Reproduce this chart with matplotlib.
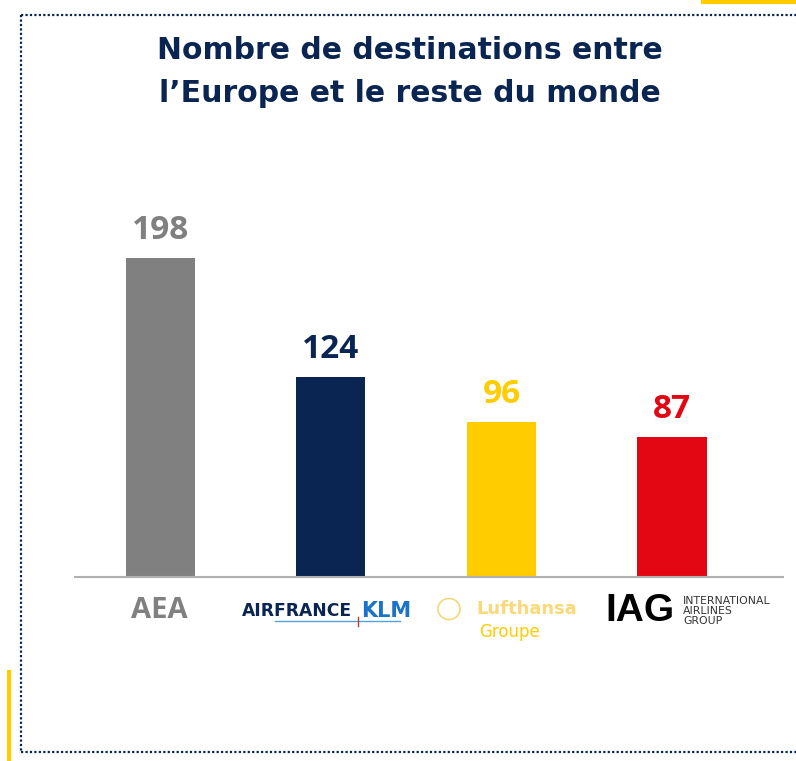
import matplotlib.pyplot as plt
from matplotlib.lines import Line2D

# data
groups = ["AEA", "Air France KLM", "Lufthansa Groupe", "IAG"]
destinations = [198, 124, 96, 87]
bar_colors = ["#808080", "#0a2551", "#ffcc00", "#e30613"]
title = "Nombre de destinations entre\nl\u2019Europe et le reste du monde"

W, H = 796, 761
fig = plt.figure(figsize=(W / 100, H / 100), dpi=100)


def fx(px):
    return px / W


def fy(py):
    return 1 - py / H


# dotted frame + yellow accents
navy = "#0a2551"
for xs, ys in [([21, 796], [15, 15]), ([21, 21], [15, 752]), ([21, 796], [752, 752])]:
    fig.add_artist(Line2D([fx(x) for x in xs], [fy(y) for y in ys], color=navy,
                          lw=1.6, ls=(0, (1, 1)), transform=fig.transFigure))
fig.add_artist(Line2D([fx(703), fx(796)], [fy(1.5), fy(1.5)], color="#ffcc00",
                      lw=3, transform=fig.transFigure))
fig.add_artist(Line2D([fx(8.5), fx(8.5)], [fy(672), fy(761)], color="#ffcc00",
                      lw=3, transform=fig.transFigure))

fig.text(fx(410), fy(72), title, ha="center", va="center", fontsize=21.5,
         fontweight="bold", color=navy, linespacing=1.6)

# axes: baseline at y=577, x from 75 to 783
ax = fig.add_axes([fx(75), fy(577), fx(708), (577 - 174) / H])
x = range(len(groups))
ax.bar(x, destinations, width=0.405, color=bar_colors)
ax.set_xlim(-0.501, 3.651)
ax.set_ylim(0, 250)
for s in ["top", "right", "left"]:
    ax.spines[s].set_visible(False)
ax.spines["bottom"].set_color("#b0b0b0")
ax.spines["bottom"].set_linewidth(1.5)
ax.set_xticks([])
ax.set_yticks([])

for i, v in enumerate(destinations):
    ax.annotate(str(v), (i, v), xytext=(0, 8), textcoords="offset points",
                ha="center", va="bottom", fontsize=24, fontweight="bold",
                color=bar_colors[i], family="Open Sans")

# group labels (logo text)
fig.text(fx(159), fy(610), "AEA", ha="center", va="center", fontsize=21,
         fontweight="bold", color="#808080", family="Open Sans")

fig.text(fx(352), fy(611), "AIRFRANCE", ha="right", va="center", fontsize=12.3,
         fontweight="bold", color=navy)
fig.text(fx(361), fy(611), "KLM", ha="left", va="center", fontsize=15,
         fontweight="bold", color="#1a73c8")
fig.add_artist(Line2D([fx(275), fx(400)], [fy(621), fy(621)], color="#4fa3e0",
                      lw=1, transform=fig.transFigure))
fig.add_artist(Line2D([fx(358), fx(358)], [fy(617), fy(626)], color="#c0392b",
                      lw=1, transform=fig.transFigure))

fig.add_artist(plt.Circle((fx(449), fy(609)), 11 / W, fill=False,
                          ec="#f5d77a", lw=1.2, transform=fig.transFigure))
fig.text(fx(527), fy(609), "Lufthansa", ha="center", va="center", fontsize=13,
         fontweight="bold", color="#f9d978")
fig.text(fx(509), fy(632), "Groupe", ha="center", va="center", fontsize=12,
         color="#ffcc00")

fig.text(fx(605), fy(611), "IAG", ha="left", va="center", fontsize=28,
         fontweight="heavy", color="black", family="Liberation Sans")
fig.text(fx(683), fy(611), "INTERNATIONAL\nAIRLINES\nGROUP", ha="left",
         va="center", fontsize=7.8, color="#333333", linespacing=0.95)

fig.savefig("out.png", dpi=100)
